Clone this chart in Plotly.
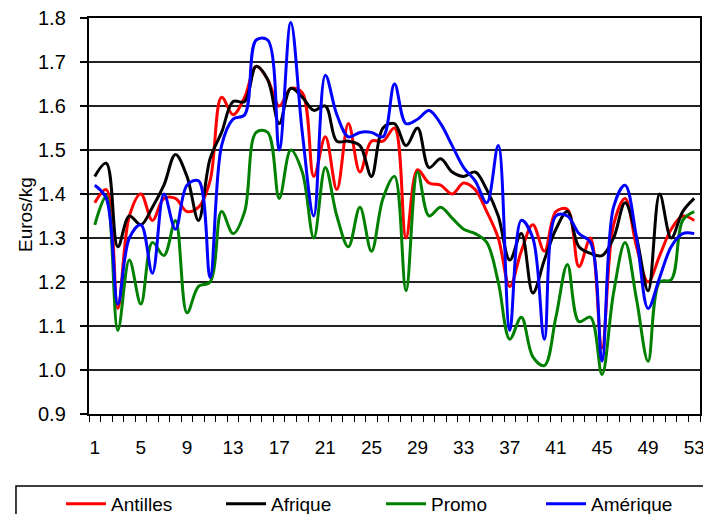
import plotly.graph_objects as go

semaines = list(range(1, 54))

antilles = [1.38, 1.41, 1.14, 1.35, 1.40, 1.34, 1.39, 1.39, 1.36, 1.37,
            1.43, 1.62, 1.58, 1.62, 1.69, 1.66, 1.60, 1.64, 1.63, 1.44,
            1.53, 1.41, 1.56, 1.45, 1.52, 1.52, 1.55, 1.30, 1.455, 1.425,
            1.42, 1.40, 1.425, 1.41, 1.36, 1.30, 1.19, 1.27, 1.33, 1.27,
            1.36, 1.365, 1.235, 1.30, 1.05, 1.33, 1.39, 1.28, 1.20, 1.26,
            1.32, 1.35, 1.34]

afrique = [1.44, 1.47, 1.28, 1.35, 1.33, 1.37, 1.42, 1.49, 1.44, 1.34,
           1.48, 1.54, 1.61, 1.61, 1.69, 1.66, 1.56, 1.64, 1.62, 1.59,
           1.60, 1.52, 1.52, 1.51, 1.44, 1.55, 1.56, 1.51, 1.55, 1.46,
           1.48, 1.45, 1.44, 1.45, 1.41, 1.35, 1.25, 1.31, 1.175, 1.25,
           1.32, 1.36, 1.28, 1.265, 1.26, 1.30, 1.38, 1.30, 1.18, 1.40,
           1.30, 1.36, 1.39]

promo = [1.33, 1.395, 1.09, 1.25, 1.15, 1.29, 1.26, 1.34, 1.13, 1.19,
         1.20, 1.36, 1.31, 1.36, 1.54, 1.54, 1.39, 1.50, 1.45, 1.30,
         1.46, 1.35, 1.28, 1.37, 1.27, 1.39, 1.44, 1.18, 1.45, 1.35,
         1.37, 1.345, 1.32, 1.31, 1.29, 1.20, 1.07, 1.12, 1.03, 1.01,
         1.12, 1.24, 1.11, 1.12, 0.99, 1.175, 1.29, 1.16, 1.02, 1.20,
         1.205, 1.34, 1.36]

amerique = [1.42, 1.39, 1.15, 1.30, 1.33, 1.22, 1.40, 1.32, 1.42, 1.43,
            1.21, 1.51, 1.57, 1.58, 1.75, 1.75, 1.50, 1.79, 1.54, 1.35,
            1.67, 1.58, 1.53, 1.54, 1.54, 1.53, 1.65, 1.56, 1.57, 1.59,
            1.56, 1.51, 1.46, 1.43, 1.38, 1.51, 1.09, 1.34, 1.30, 1.07,
            1.35, 1.35, 1.31, 1.29, 1.02, 1.37, 1.42, 1.30, 1.14, 1.21,
            1.28, 1.31, 1.31]

x_ticks = list(range(1, 54, 4))
y_ticks = [0.9, 1.0, 1.1, 1.2, 1.3, 1.4, 1.5, 1.6, 1.7, 1.8]
y_labels = ["0.9", "1.0", "1.1", "1.2", "1.3", "1.4", "1.5", "1.6", "1.7", "1.8"]

series = [
    ("Antilles", antilles, "#ff0000"),
    ("Afrique", afrique, "#000000"),
    ("Promo", promo, "#008000"),
    ("Amérique", amerique, "#0000ff"),
]

FONT = "Arial, Liberation Sans, sans-serif"

fig = go.Figure()
for nom, vals, couleur in series:
    fig.add_trace(go.Scatter(
        x=semaines, y=vals, name=nom, mode="lines",
        line=dict(color=couleur, width=3, shape="spline", smoothing=1.0),
    ))

# étiquettes de l'axe Y (placées à la main pour coller à l'original)
for val, txt in zip(y_ticks, y_labels):
    fig.add_annotation(
        x=-0.0344, xref="paper", y=val, yref="y", text=txt,
        showarrow=False, xanchor="right", yanchor="middle",
        font=dict(size=20),
    )

# titre de l'axe Y
fig.add_annotation(
    x=-0.1047, xref="paper", y=0.5025, yref="paper", text="Euros/kg",
    showarrow=False, textangle=-90, xanchor="center", yanchor="middle",
    font=dict(size=19),
)

# cadre de la légende (coupé en bas comme dans l'original)
fig.add_shape(
    type="rect", xref="paper", yref="paper",
    x0=-0.1195, x1=1.06, y0=-0.1818, y1=-0.40,
    line=dict(color="black", width=1.5), fillcolor="rgba(0,0,0,0)",
)

fig.update_layout(
    width=711, height=514,
    margin=dict(l=81, r=19, t=10, b=108, autoexpand=False),
    plot_bgcolor="white", paper_bgcolor="white",
    font=dict(family=FONT, size=19, color="black"),
    legend=dict(
        orientation="h", x=-0.0458, xanchor="left", y=-0.179, yanchor="top",
        bgcolor="rgba(0,0,0,0)", borderwidth=0,
        entrywidth=105, entrywidthmode="pixels", itemwidth=40,
        font=dict(size=19),
    ),
)

fig.update_xaxes(
    range=[0.5, 53.5], tickvals=x_ticks, ticks="", ticklabelstandoff=15,
    showgrid=False, showline=True, linecolor="black", linewidth=2, mirror=True,
    minor=dict(tick0=0.5, dtick=1, ticks="outside", ticklen=6, tickcolor="black", showgrid=False),
    zeroline=False, ticklabeloverflow="allow",
)
fig.update_yaxes(
    range=[0.9, 1.8], tickvals=y_ticks, showticklabels=False,
    ticks="outside", ticklen=7, tickwidth=1.5, tickcolor="black",
    showgrid=True, gridcolor="#222222", gridwidth=1.5,
    showline=True, linecolor="black", linewidth=2, mirror=True,
    zeroline=False,
)

fig.write_html("out.html")
